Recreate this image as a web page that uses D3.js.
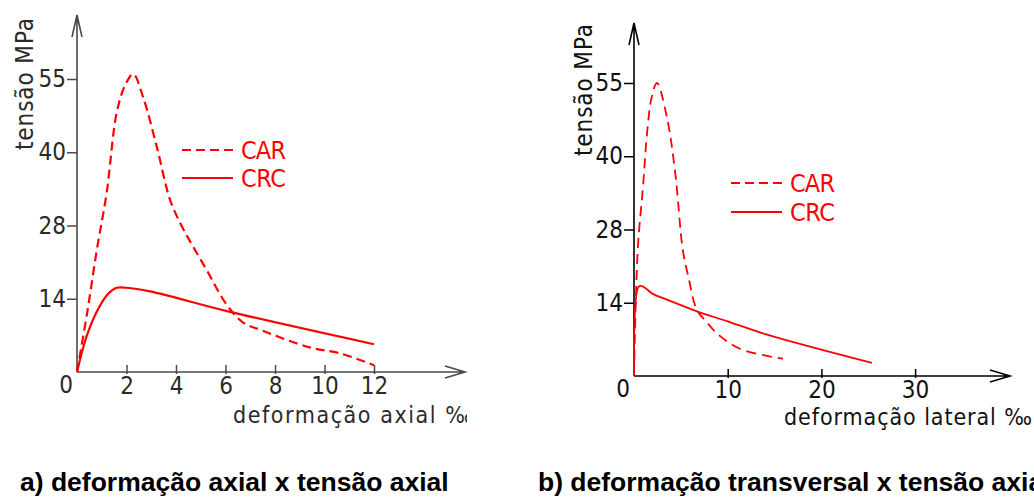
<!DOCTYPE html>
<html>
<head>
<meta charset="utf-8">
<script src="https://cdn.jsdelivr.net/npm/d3@7"></script>
<style>
	body { margin: 0; background: #fff; }
	svg { display: block; }
	.tech { font-family: "Liberation Sans Narrow", "DejaVu Sans Condensed", sans-serif; }
</style>
</head>
<body>
<script>
const w = 1034;
const h = 501;

// * DATA
const seriesNames = ["CAR", "CRC"];
const stressTicks = [0, 14, 28, 40, 55];
const axialTicks = [2, 4, 6, 8, 10, 12];
const lateralTicks = [10, 20, 30];
const titles = ["a) deformação axial x tensão axial", "b) deformação transversal x tensão axial"];
const xLabels = ["deformação axial ‰", "deformação lateral ‰"];
const yLabel = "tensão MPa";

// axial strain (‰) vs stress (MPa)
const axialCarStrain = [0, 0.4, 0.8, 1.2, 1.6, 1.95, 2.27, 2.67, 3.23, 3.76, 4.24, 4.65, 5.25, 6.02, 6.7, 7.5, 9.4, 10.6, 12];
const axialCarStress = [0, 11, 23.3, 33.4, 48, 53.8, 56, 51.3, 41, 32.2, 27.8, 24.3, 19.4, 13.05, 9.5, 7.9, 4.7, 3.6, 1.3];
const axialCrcStrain = [0, 0.4, 0.86, 1.27, 1.6, 2.0, 2.95, 6.18, 12];
const axialCrcStress = [0, 7, 12.1, 15, 16.1, 16.1, 15.4, 11.5, 5.3];

// lateral strain (‰) vs stress (MPa)
const lateralCarStrain = [0, 0.4, 0.96, 1.4, 1.9, 2.45, 3.5, 4.4, 5.2, 5.8, 6.7, 7.8, 9.0, 11.3, 15.9];
const lateralCarStress = [0, 24.2, 35, 44.9, 52.2, 55, 48.1, 37.3, 24.2, 19, 12.7, 10.2, 7.9, 5.2, 3.3];
const lateralCrcStrain = [0, 0.5, 0.96, 2.0, 3.5, 6.8, 9.9, 14.2, 25.4];
const lateralCrcStress = [0, 17.1, 17.1, 15.7, 14.6, 12.3, 10.5, 7.9, 2.5];

// * SVG BASE SETUP
const svg = d3.select("body").append("svg").attr("width", w).attr("height", h);
const defs = svg.append("defs");
defs.append("clipPath").attr("id", "clipA")
	.append("rect").attr("x", 0).attr("y", 0).attr("width", 467).attr("height", 440);

const panels = [
	{
		ox: 77, oy: 372, unit: 24.75, yStep: 73.25, xTicks: axialTicks,
		axisColor: "#4a4a4a", textColor: "#2a2a2a", arrowTop: 15, arrowRight: 465,
		car: d3.zip(axialCarStrain, axialCarStress),
		crc: d3.zip(axialCrcStrain, axialCrcStress),
		carWidth: 2.2, crcWidth: 2.2, carDash: "9,5",
		legendX: 182, legendY: 150, legendGap: 28,
		xLabel: xLabels[0], xLabelX: 233, xLabelY: 423, xLabelLen: 240,
		yLabelX: 33, yLabelY: 84, clip: "url(#clipA)",
		title: titles[0], titleX: 20
	},
	{
		ox: 634, oy: 376, unit: 9.37, yStep: 73.25, xTicks: lateralTicks,
		axisColor: "#000", textColor: "#111", arrowTop: 23, arrowRight: 1010,
		car: d3.zip(lateralCarStrain, lateralCarStress),
		crc: d3.zip(lateralCrcStrain, lateralCrcStress),
		carWidth: 1.8, crcWidth: 1.8, carDash: "10,6",
		legendX: 731, legendY: 183, legendGap: 29,
		xLabel: xLabels[1], xLabelX: 784, xLabelY: 425, xLabelLen: 248,
		yLabelX: 592, yLabelY: 90, clip: null,
		title: titles[1], titleX: 538
	}
];

panels.forEach((p) => {
	const g = svg.append("g");
	// * SCALE FUNCTIONS
	const xMax = p.xTicks[p.xTicks.length - 1];
	const x = d3.scaleLinear().domain([0, xMax]).range([p.ox, p.ox + p.unit * xMax]);
	const y = d3.scaleLinear()
		.domain(stressTicks)
		.range(stressTicks.map((d, i) => p.oy - i * p.yStep));

	// * AXES
	const xAxis = g.append("g")
		.attr("transform", "translate(0," + p.oy + ")")
		.call(d3.axisBottom(x).tickValues(p.xTicks).tickSizeInner(-7).tickSizeOuter(0).tickPadding(5));
	const yAxis = g.append("g")
		.attr("transform", "translate(" + p.ox + ",0)")
		.call(d3.axisLeft(y).tickValues(stressTicks.slice(1)).tickSizeInner(10).tickSizeOuter(0).tickPadding(1));
	[xAxis, yAxis].forEach((a) => {
		a.select(".domain").remove();
		a.selectAll(".tick line").attr("stroke", p.axisColor).attr("stroke-width", 1.5);
		a.selectAll(".tick text")
			.attr("class", "tech")
			.attr("font-size", 24)
			.attr("fill", p.textColor);
	});
	yAxis.selectAll(".tick line").attr("x2", -10);
	xAxis.selectAll(".tick line").attr("y1", 2);

	// axis lines with open arrows
	g.append("path")
		.attr("d", `M${p.ox},${p.oy}V${p.arrowTop}M${p.ox - 5},${p.arrowTop + 22}L${p.ox},${p.arrowTop}L${p.ox + 5},${p.arrowTop + 22}`)
		.attr("fill", "none").attr("stroke", p.axisColor).attr("stroke-width", 1.6);
	g.append("path")
		.attr("d", `M${p.ox},${p.oy}H${p.arrowRight}M${p.arrowRight - 20},${p.oy - 6}L${p.arrowRight},${p.oy}L${p.arrowRight - 20},${p.oy + 6}`)
		.attr("fill", "none").attr("stroke", p.axisColor).attr("stroke-width", 1.6);

	g.append("text").attr("class", "tech")
		.attr("x", p.ox - 11).attr("y", p.oy + 21)
		.attr("text-anchor", "middle").attr("font-size", 24).attr("fill", p.textColor)
		.text(stressTicks[0]);

	// axis titles
	g.append("text").attr("class", "tech")
		.attr("x", p.xLabelX).attr("y", p.xLabelY)
		.attr("font-size", 23).attr("fill", p.textColor)
		.attr("textLength", p.xLabelLen).attr("lengthAdjust", "spacing")
		.attr("clip-path", p.clip)
		.text(p.xLabel);
	g.append("text").attr("class", "tech")
		.attr("transform", `translate(${p.yLabelX},${p.yLabelY}) rotate(-90)`)
		.attr("text-anchor", "middle")
		.attr("font-size", 24).attr("fill", p.textColor)
		.attr("textLength", 132).attr("lengthAdjust", "spacing")
		.text(yLabel);

	// * GRAPH
	const line = d3.line()
		.x((d) => x(d[0]))
		.y((d) => y(d[1]))
		.curve(d3.curveCatmullRom.alpha(0.5));
	g.append("path").datum(p.car)
		.attr("d", line).attr("fill", "none")
		.attr("stroke", "#ff0000").attr("stroke-width", p.carWidth)
		.attr("stroke-dasharray", p.carDash);
	g.append("path").datum(p.crc)
		.attr("d", line).attr("fill", "none")
		.attr("stroke", "#ff0000").attr("stroke-width", p.crcWidth);

	// * LEGEND
	seriesNames.forEach((name, i) => {
		const ly = p.legendY + i * p.legendGap;
		g.append("line")
			.attr("x1", p.legendX).attr("x2", p.legendX + 51)
			.attr("y1", ly).attr("y2", ly)
			.attr("stroke", "#ff0000").attr("stroke-width", 2)
			.attr("stroke-dasharray", i === 0 ? "9,5" : null);
		g.append("text").attr("class", "tech")
			.attr("x", p.legendX + 59).attr("y", ly + 9)
			.attr("font-size", 25).attr("fill", "#ff0000")
			.attr("textLength", 45).attr("lengthAdjust", "spacing")
			.text(name);
	});

	// panel caption
	svg.append("text")
		.attr("x", p.titleX).attr("y", 491)
		.attr("font-family", "'Liberation Sans', Arial, sans-serif")
		.attr("font-weight", "bold").attr("font-size", 26.5)
		.attr("fill", "#000")
		.text(p.title);
});
</script>
</body>
</html>
